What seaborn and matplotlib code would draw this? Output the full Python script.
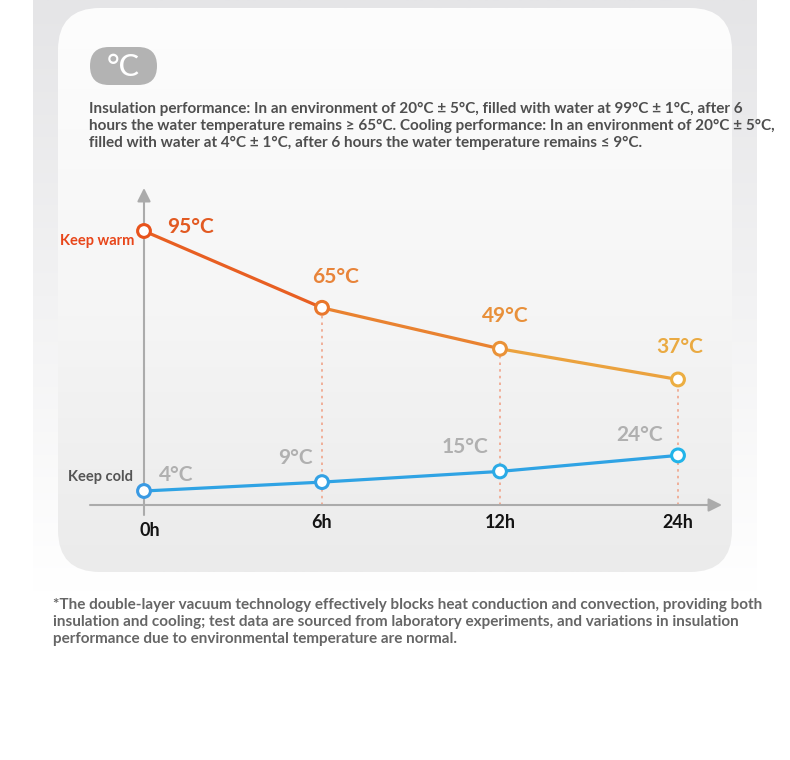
import numpy as np
import pandas as pd
import matplotlib
matplotlib.use("Agg")
import matplotlib.pyplot as plt
import seaborn as sns
from matplotlib.patches import FancyBboxPatch
from matplotlib.colors import LinearSegmentedColormap
from matplotlib import font_manager

# ---------------- data ----------------
hours = ["0h", "6h", "12h", "24h"]
warm_temps = [95, 65, 49, 37]
cold_temps = [4, 9, 15, 24]
warm_labels = ["95°C", "65°C", "49°C", "37°C"]
cold_labels = ["4°C", "9°C", "15°C", "24°C"]
series_names = ["Keep warm", "Keep cold"]
badge_text = "°C"
header_lines = [
    "Insulation performance: In an environment of 20°C ± 5°C, filled with water at 99°C ± 1°C, after 6",
    "hours the water temperature remains ≥ 65°C. Cooling performance: In an environment of 20°C ± 5°C,",
    "filled with water at 4°C ± 1°C, after 6 hours the water temperature remains ≤ 9°C.",
]
footnote_lines = [
    "*The double-layer vacuum technology effectively blocks heat conduction and convection, providing both",
    "insulation and cooling; test data are sourced from laboratory experiments, and variations in insulation",
    "performance due to environmental temperature are normal.",
]

# ---------------- style ----------------
W, H = 790, 760
sns.set_theme(style="white")
plt.rcParams["font.family"] = ["Lato", "DejaVu Sans"]

installed = {f.name for f in font_manager.fontManager.ttflist}
narrow_family = ["Liberation Sans Narrow", "Lato"] if "Liberation Sans Narrow" in installed else ["Lato"]

warm_seg_colors = ["#E85F22", "#E98230", "#EBA23E"]
warm_pt_colors = ["#E8531C", "#E9772C", "#EA9237", "#ECAE42"]
cold_line_color = "#2FA3E4"
cold_pt_colors = ["#3A9AE3", "#33A1E4", "#2BABE6", "#22B4E9"]
warm_lbl_colors = ["#E25A22", "#E8843A", "#E8903A", "#EAAA42"]
axis_gray = "#ababab"

fig = plt.figure(figsize=(W / 100, H / 100), dpi=100)
fig.patch.set_facecolor("white")

# ---------------- background ----------------
bg = fig.add_axes([0, 0, 1, 1])
bg.set_xlim(0, W)
bg.set_ylim(H, 0)
bg.axis("off")
grad = np.linspace(0, 1, 256)[:, None]
outer_cmap = LinearSegmentedColormap.from_list("outer", ["#e5e5e7", "#f2f2f3", "#ffffff"])
bg.imshow(grad, extent=(33, 757, 592, 0), cmap=outer_cmap, aspect="auto", zorder=0)

card = FancyBboxPatch((58, 8), 674, 564, boxstyle="round,pad=0,rounding_size=42",
                      facecolor="none", edgecolor="none", transform=bg.transData)
bg.add_patch(card)
card_cmap = LinearSegmentedColormap.from_list("card", ["#fdfdfd", "#f6f6f6", "#ebebeb"])
im = bg.imshow(grad, extent=(58, 732, 572, 8), cmap=card_cmap, aspect="auto", zorder=1)
im.set_clip_path(card)

badge = FancyBboxPatch((90, 47), 67, 38, boxstyle="round,pad=0,rounding_size=19",
                       facecolor="#b3b3b3", edgecolor="none", zorder=2)
bg.add_patch(badge)
bg.text(123.5, 67.5, badge_text, color="white", fontsize=22, fontweight="medium",
        ha="center", va="center", zorder=3)

for i, line in enumerate(header_lines):
    bg.text(89, 113 + 17 * i, line, fontsize=11, fontweight="bold", color="#4f4f4f",
            ha="left", va="baseline", zorder=3)

foot_texts = []
for i, line in enumerate(footnote_lines):
    foot_texts.append(bg.text(53, 609 + 17 * i, line, fontsize=11, fontweight="bold",
                              family=narrow_family, color="#666666",
                              ha="left", va="baseline", zorder=3))
# fit footnote width to the reference block (first line spans ~709 px)
fig.canvas.draw()
renderer = fig.canvas.get_renderer()
w0 = foot_texts[0].get_window_extent(renderer).width
scale = 709 / w0
for t in foot_texts:
    t.set_fontsize(11 * scale)

# ---------------- chart axes ----------------
X0_PX, DX_PX = 144, 178            # pixel position of first category, spacing
WARM_REF_PX, WARM_PX_PER_DEG = 231, 2.56   # warm: 95 °C at 231 px
COLD_REF_PX, COLD_PX_PER_DEG = 491, 1.78   # cold: 4 °C at 491 px


def x_of_px(px):
    return (px - X0_PX) / DX_PX


def tw_of_px(py):
    return 95 - (py - WARM_REF_PX) / WARM_PX_PER_DEG


def tc_of_px(py):
    return 4 - (py - COLD_REF_PX) / COLD_PX_PER_DEG


L, R, T, B = 60, 730, 150, 560
rect = [L / W, (H - B) / H, (R - L) / W, (B - T) / H]
ax = fig.add_axes(rect)
ax.set_facecolor("none")
ax.set_xlim(x_of_px(L), x_of_px(R))
ax.set_ylim(tw_of_px(B), tw_of_px(T))
ax.axis("off")

axc = ax.twinx()
axc.set_ylim(tc_of_px(B), tc_of_px(T))
axc.axis("off")

idx = list(range(len(hours)))
t_axis = tw_of_px(505)

# axes with arrows
ax.annotate("", xy=(x_of_px(722), t_axis), xytext=(x_of_px(90), t_axis),
            arrowprops=dict(arrowstyle="-|>", color=axis_gray, lw=1.5, mutation_scale=20,
                            shrinkA=0, shrinkB=0))
ax.annotate("", xy=(0, tw_of_px(188)), xytext=(0, tw_of_px(515)),
            arrowprops=dict(arrowstyle="-|>", color=axis_gray, lw=1.5, mutation_scale=20,
                            shrinkA=0, shrinkB=0))

# dotted guides
ax.vlines(idx[1:], t_axis, warm_temps[1:], colors="#F0A48A", linestyles=(0, (1.5, 2.5)),
          lw=1.2, zorder=2)

# warm line (segment gradient)
seg_rows = []
for i in range(len(hours) - 1):
    seg_rows.append({"idx": idx[i], "temp": warm_temps[i], "seg": f"s{i}"})
    seg_rows.append({"idx": idx[i + 1], "temp": warm_temps[i + 1], "seg": f"s{i}"})
seg_df = pd.DataFrame(seg_rows)
sns.lineplot(data=seg_df, x="idx", y="temp", hue="seg", palette=warm_seg_colors, lw=2.3,
             legend=False, sort=False, estimator=None, ax=ax, zorder=3,
             solid_capstyle="round")

cold_df = pd.DataFrame({"idx": idx, "temp": cold_temps})
sns.lineplot(data=cold_df, x="idx", y="temp", color=cold_line_color, lw=2.3, legend=False,
             estimator=None, ax=axc, zorder=3)

warm_df = pd.DataFrame({"idx": idx, "temp": warm_temps})
sns.scatterplot(data=warm_df, x="idx", y="temp", color="white", edgecolor=warm_pt_colors,
                linewidth=2.2, s=85, ax=ax, zorder=5, legend=False)
sns.scatterplot(data=cold_df, x="idx", y="temp", color="white", edgecolor=cold_pt_colors,
                linewidth=2.2, s=85, ax=axc, zorder=5, legend=False)
for a in (ax, axc):
    a.set_xlabel("")
    a.set_ylabel("")
    a.axis("off")

# value labels
warm_offsets = [(46, 4), (14, 31), (5, 33), (2, 32)]
cold_offsets = [(32, 16), (-27, 24), (-35, 24), (-38, 20)]
for i in idx:
    ax.annotate(warm_labels[i], (idx[i], warm_temps[i]), xytext=warm_offsets[i],
                textcoords="offset pixels", ha="center", va="center", fontsize=15,
                fontweight="bold", color=warm_lbl_colors[i], zorder=6)
    axc.annotate(cold_labels[i], (idx[i], cold_temps[i]), xytext=cold_offsets[i],
                 textcoords="offset pixels", ha="center", va="center", fontsize=15,
                 fontweight="bold", color="#b0b0b0", zorder=6)

# series names
ax.annotate(series_names[0], (0, warm_temps[0]), xytext=(-10, -10), textcoords="offset pixels",
            ha="right", va="center", fontsize=10.5, fontweight="bold", color="#E8461A")
axc.annotate(series_names[1], (0, cold_temps[0]), xytext=(-11, 14), textcoords="offset pixels",
             ha="right", va="center", fontsize=10.5, fontweight="bold", color="#555555")

# category labels
tick_offsets = [(6, -25), (0, -18), (0, -18), (0, -18)]
for i in idx:
    ax.annotate(hours[i], (idx[i], t_axis), xytext=tick_offsets[i], textcoords="offset pixels",
                ha="center", va="center", fontsize=13, fontweight="bold", color="#141414")

fig.savefig("out.png", dpi=100, facecolor="white")
